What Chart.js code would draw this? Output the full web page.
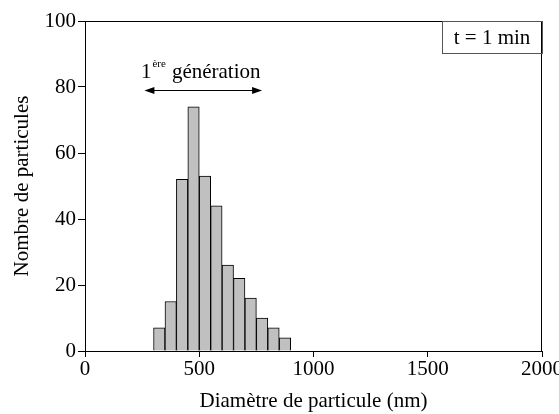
<!DOCTYPE html>
<html>
<head>
<meta charset="utf-8">
<script src="https://cdn.jsdelivr.net/npm/chart.js@4/dist/chart.umd.min.js"></script>
<style>
  body { margin: 0; background: #fff; }
  #wrap { width: 559px; height: 414px; }
</style>
</head>
<body>
<div id="wrap"><canvas id="hist"></canvas></div>
<script>
// bin centres (nm), 50 nm wide bins
const binCentres = [325, 375, 425, 475, 525, 575, 625, 675, 725, 775, 825, 875];
const counts = [7, 15, 52, 74, 53, 44, 26, 22, 16, 10, 7, 4];
const xTicks = [0, 500, 1000, 1500, 2000];
const yTicks = [0, 20, 40, 60, 80, 100];
const genArrow = [260, 775]; // range of 1st generation (nm)
const genArrowY = 79;
const genLabel = 'génération';
const timeLabel = 't = 1 min';

const serif = "'Liberation Serif', 'DejaVu Serif', serif";
const fs = 21;

// frame + annotations
const extras = {
  id: 'extras',
  afterDraw(chart) {
    const ctx = chart.ctx;
    const a = chart.chartArea;
    const xs = chart.scales.x, ys = chart.scales.y;
    ctx.save();
    ctx.strokeStyle = '#000';
    ctx.lineWidth = 1;
    ctx.strokeRect(a.left + 0.5, a.top + 0.5, a.right - a.left - 1, a.bottom - a.top);

    // time box
    const bw = 100, bh = 32;
    ctx.strokeStyle = '#555';
    ctx.strokeRect(a.right - bw + 0.5, a.top + 0.5, bw, bh);
    ctx.fillStyle = '#000';
    ctx.font = fs + 'px ' + serif;
    ctx.textAlign = 'center';
    ctx.textBaseline = 'middle';
    ctx.fillText(timeLabel, a.right - bw / 2, a.top + bh / 2 + 1);

    // arrow
    const x1 = xs.getPixelForValue(genArrow[0]);
    const x2 = xs.getPixelForValue(genArrow[1]);
    const y = Math.round(ys.getPixelForValue(genArrowY)) + 0.5;
    ctx.strokeStyle = '#000';
    ctx.lineWidth = 1.2;
    ctx.beginPath();
    ctx.moveTo(x1 + 4, y); ctx.lineTo(x2 - 4, y);
    ctx.stroke();
    ctx.beginPath();
    ctx.moveTo(x1, y); ctx.lineTo(x1 + 10, y - 3.5); ctx.lineTo(x1 + 10, y + 3.5); ctx.closePath();
    ctx.moveTo(x2, y); ctx.lineTo(x2 - 10, y - 3.5); ctx.lineTo(x2 - 10, y + 3.5); ctx.closePath();
    ctx.fill();

    // label "1ère génération"
    const ty = y - 13;
    ctx.textAlign = 'left';
    ctx.textBaseline = 'alphabetic';
    ctx.font = fs + 'px ' + serif;
    const w1 = ctx.measureText('1').width;
    ctx.font = '11px ' + serif;
    const wsup = ctx.measureText('ère').width;
    ctx.font = fs + 'px ' + serif;
    const wg = ctx.measureText(genLabel).width;
    const total = w1 + wsup + 6 + wg;
    let tx = (x1 + x2) / 2 - total / 2 - 3;
    ctx.fillText('1', tx, ty);
    ctx.font = '11px ' + serif;
    ctx.fillText('ère', tx + w1 + 1, ty - 11);
    ctx.font = fs + 'px ' + serif;
    ctx.fillText(genLabel, tx + w1 + wsup + 7, ty);
    ctx.restore();
  }
};

new Chart(document.getElementById('hist'), {
  type: 'bar',
  data: {
    datasets: [{
      data: binCentres.map((c, i) => ({ x: c, y: counts[i] })),
      backgroundColor: '#c0c0c0',
      borderColor: '#000',
      borderWidth: 1,
      barPercentage: 1,
      categoryPercentage: 1
    }]
  },
  options: {
    responsive: true,
    maintainAspectRatio: false,
    animation: false,
    layout: { padding: { left: 0, right: 17, top: 21, bottom: 0 } },
    plugins: { legend: { display: false }, tooltip: { enabled: false } },
    scales: {
      x: {
        type: 'linear',
        offset: false,
        min: 0, max: 2000,
        afterBuildTicks: s => { s.ticks = xTicks.map(v => ({ value: v })); },
        afterFit: s => { s.height = 63; s.paddingRight = 0; s.paddingLeft = 0; },
        grid: { offset: false, drawOnChartArea: false, drawTicks: true, tickLength: 6, color: '#000' },
        border: { display: true, color: '#000' },
        ticks: { color: '#000', font: { family: serif, size: fs }, padding: 0, maxRotation: 0, callback: v => String(v) },
        title: { display: true, text: 'Diamètre de particule (nm)', color: '#000', font: { family: serif, size: fs }, padding: { top: 8, bottom: 0 } }
      },
      y: {
        min: 0, max: 100,
        afterBuildTicks: s => { s.ticks = yTicks.map(v => ({ value: v })); },
        afterFit: s => { s.width = 85; s.paddingTop = 0; s.paddingBottom = 0; },
        grid: { drawOnChartArea: false, drawTicks: true, tickLength: 7, color: '#000' },
        border: { display: true, color: '#000' },
        ticks: { color: '#000', font: { family: serif, size: fs }, padding: 2 },
        title: { display: true, text: 'Nombre de particules', color: '#000', font: { family: serif, size: fs }, padding: { top: 10, bottom: 4 } }
      }
    }
  },
  plugins: [extras]
});
</script>
</body>
</html>
